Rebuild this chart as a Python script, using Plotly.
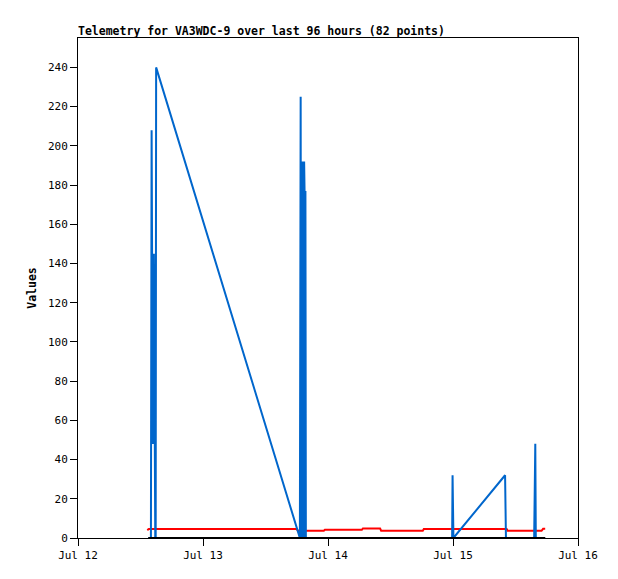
import plotly.graph_objects as go

FONT = "DejaVu Sans Mono"

# red series (upper-level values around 4-5)
red_times = [
    "2024-07-12 13:18", "2024-07-12 13:36", "2024-07-13 18:00", "2024-07-13 18:12",
    "2024-07-13 23:12", "2024-07-13 23:24", "2024-07-14 06:30", "2024-07-14 06:42",
    "2024-07-14 10:00", "2024-07-14 10:12", "2024-07-14 18:12", "2024-07-14 18:24",
    "2024-07-15 10:18", "2024-07-15 10:30", "2024-07-15 17:00", "2024-07-15 17:18",
    "2024-07-15 17:42",
]
red_values = [4.0, 4.6, 4.6, 3.7, 3.7, 4.2, 4.2, 4.9, 4.9, 3.7, 3.7, 4.6, 4.6, 3.7, 3.7, 4.7, 4.7]

# blue series (spiky values)
blue_times = [
    "2024-07-12 13:30", "2024-07-12 14:00", "2024-07-12 14:08", "2024-07-12 14:14",
    "2024-07-12 14:18", "2024-07-12 14:22", "2024-07-12 14:26", "2024-07-12 14:30",
    "2024-07-12 14:34", "2024-07-12 14:38", "2024-07-12 14:42", "2024-07-12 14:46",
    "2024-07-12 14:50", "2024-07-12 14:55", "2024-07-12 15:00",
    "2024-07-13 18:36", "2024-07-13 18:45", "2024-07-13 18:50", "2024-07-13 18:55",
    "2024-07-13 19:00", "2024-07-13 19:05", "2024-07-13 19:10", "2024-07-13 19:15",
    "2024-07-13 19:20", "2024-07-13 19:25", "2024-07-13 19:30", "2024-07-13 19:35",
    "2024-07-13 19:40", "2024-07-13 19:45",
    "2024-07-14 23:50", "2024-07-14 23:55", "2024-07-15 00:05",
    "2024-07-15 10:00", "2024-07-15 10:05", "2024-07-15 10:10",
    "2024-07-15 15:35", "2024-07-15 15:40", "2024-07-15 15:48", "2024-07-15 15:54",
    "2024-07-15 17:42",
]
blue_values = [
    0, 0, 208, 48, 128, 48, 128, 60, 145, 88, 145, 88, 0, 0, 240,
    0, 225, 0, 192, 0, 192, 0, 192, 0, 192, 177, 0, 177, 0,
    0, 32, 0,
    32, 16, 0,
    0, 24, 48, 0,
    0,
]

# black series (flat zero)
black_times = ["2024-07-12 13:30", "2024-07-15 17:42"]
black_values = [0, 0]

y_ticks = list(range(0, 241, 20))
x_ticks = ["2024-07-12", "2024-07-13", "2024-07-14", "2024-07-15", "2024-07-16"]
x_labels = ["Jul 12", "Jul 13", "Jul 14", "Jul 15", "Jul 16"]

fig = go.Figure()
fig.add_trace(go.Scatter(x=red_times, y=red_values, mode="lines",
                         line=dict(color="#ff0000", width=2)))
fig.add_trace(go.Scatter(x=blue_times, y=blue_values, mode="lines",
                         line=dict(color="#0066cc", width=2)))
fig.add_trace(go.Scatter(x=black_times, y=black_values, mode="lines",
                         line=dict(color="#000000", width=2)))

# the page body adds an 8px offset, so margins are shifted to compensate
fig.update_layout(
    width=618,
    height=579,
    margin=dict(l=70, r=48, t=30, b=49),
    paper_bgcolor="white",
    plot_bgcolor="white",
    showlegend=False,
    font=dict(family=FONT, size=11, color="black"),
    title=dict(
        text="<b>Telemetry for VA3WDC-9 over last 96 hours (82 points)</b>",
        x=70 / 618, xanchor="left", xref="container",
        y=1 - 23 / 579, yanchor="middle",
        font=dict(family=FONT, size=11.5, color="black"),
    ),
    xaxis=dict(
        type="date",
        range=["2024-07-12", "2024-07-16"],
        tickvals=x_ticks,
        ticktext=x_labels,
        ticks="outside", ticklen=7, tickcolor="black",
        showline=True, mirror=True, linecolor="black", linewidth=1,
        showgrid=False, zeroline=False,
    ),
    yaxis=dict(
        range=[0, 255],
        tickvals=y_ticks,
        ticks="outside", ticklen=7, tickcolor="black",
        showline=True, mirror=True, linecolor="black", linewidth=1,
        showgrid=False, zeroline=False,
        title=dict(text="<b>Values</b>", font=dict(family=FONT, size=11.5), standoff=8),
    ),
)

fig.write_html("out.html")
